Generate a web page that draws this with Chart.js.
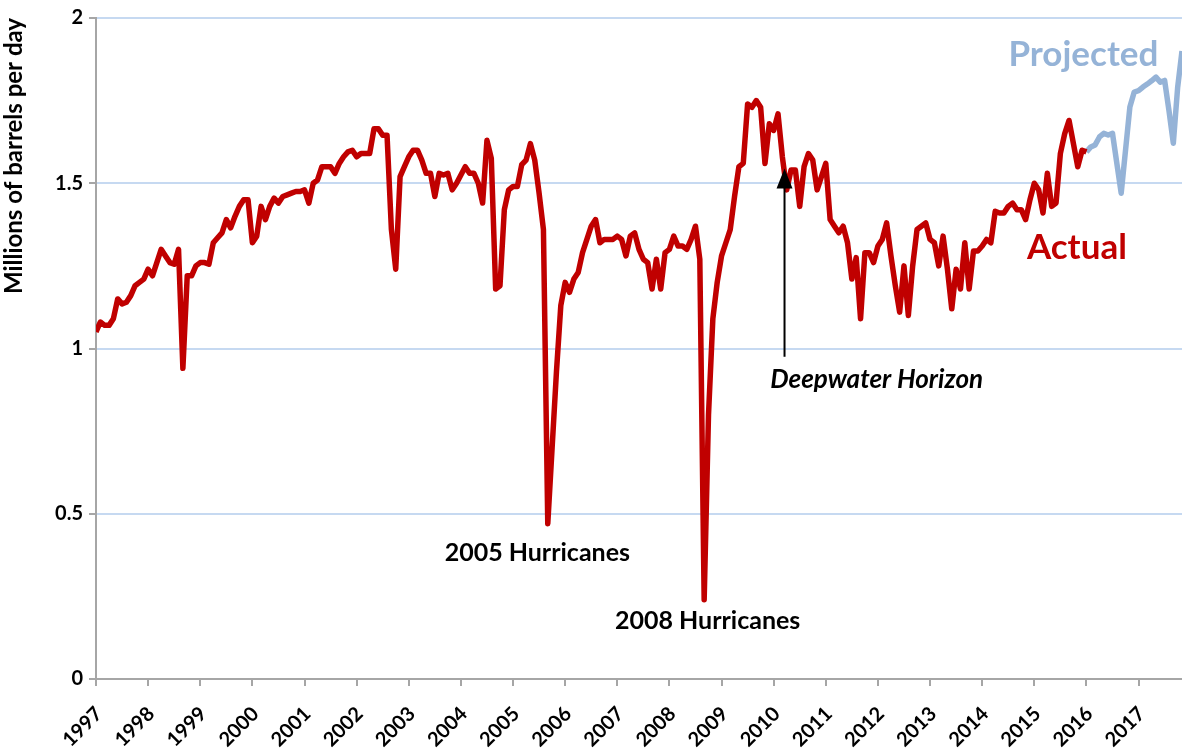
<!DOCTYPE html>
<html>
<head>
<meta charset="utf-8">
<title>Gulf of Mexico crude oil production</title>
<script src="https://cdn.jsdelivr.net/npm/chart.js@4.4.1/dist/chart.umd.min.js"></script>
<style>
  body { margin: 0; background: #fff; }
  canvas { display: block; }
</style>
</head>
<body>
<canvas id="production" width="1182" height="749"></canvas>
<script>
// month index 0 = Jan 1997, one value per month, million barrels per day
var firstYear = 1997;
var lastMonth = 250;

var actual = [
  1.05, 1.08, 1.07, 1.07, 1.09, 1.15, 1.135, 1.14, 1.16, 1.19, 1.20, 1.21,   // 1997
  1.24, 1.22, 1.26, 1.30, 1.28, 1.26, 1.255, 1.30, 0.94, 1.22, 1.22, 1.25,   // 1998
  1.26, 1.26, 1.255, 1.32, 1.335, 1.35, 1.39, 1.365, 1.40, 1.43, 1.45, 1.45, // 1999
  1.32, 1.34, 1.43, 1.39, 1.43, 1.455, 1.44, 1.46, 1.465, 1.47, 1.475, 1.475,// 2000
  1.48, 1.44, 1.50, 1.51, 1.55, 1.55, 1.55, 1.53, 1.56, 1.58, 1.595, 1.60,   // 2001
  1.58, 1.59, 1.59, 1.59, 1.665, 1.665, 1.645, 1.645, 1.36, 1.24, 1.52, 1.55,// 2002
  1.58, 1.60, 1.60, 1.57, 1.53, 1.53, 1.46, 1.53, 1.525, 1.53, 1.48, 1.50,   // 2003
  1.525, 1.55, 1.53, 1.53, 1.50, 1.44, 1.63, 1.575, 1.18, 1.19, 1.42, 1.48,  // 2004
  1.49, 1.49, 1.556, 1.57, 1.62, 1.57, 1.47, 1.36, 0.47, 0.70, 0.93, 1.13,   // 2005
  1.20, 1.17, 1.21, 1.23, 1.29, 1.33, 1.37, 1.39, 1.32, 1.33, 1.33, 1.33,    // 2006
  1.34, 1.33, 1.28, 1.34, 1.35, 1.30, 1.27, 1.26, 1.18, 1.27, 1.18, 1.29,    // 2007
  1.30, 1.34, 1.31, 1.31, 1.30, 1.33, 1.37, 1.27, 0.24, 0.80, 1.09, 1.20,    // 2008
  1.28, 1.32, 1.36, 1.46, 1.55, 1.56, 1.74, 1.73, 1.75, 1.73, 1.56, 1.68,    // 2009
  1.66, 1.71, 1.58, 1.48, 1.54, 1.54, 1.43, 1.55, 1.59, 1.57, 1.48, 1.52,    // 2010
  1.56, 1.39, 1.37, 1.35, 1.37, 1.32, 1.21, 1.275, 1.09, 1.29, 1.29, 1.26,   // 2011
  1.31, 1.33, 1.38, 1.28, 1.19, 1.11, 1.25, 1.10, 1.25, 1.36, 1.37, 1.38,    // 2012
  1.33, 1.32, 1.25, 1.34, 1.24, 1.12, 1.24, 1.18, 1.32, 1.18, 1.295, 1.295,  // 2013
  1.31, 1.33, 1.32, 1.415, 1.41, 1.41, 1.43, 1.44, 1.42, 1.42, 1.39, 1.45,   // 2014
  1.50, 1.48, 1.41, 1.53, 1.43, 1.44, 1.59, 1.65, 1.69, 1.62, 1.55, 1.60,    // 2015
  1.595                                                                      // Jan 2016
];

// forecast picks up where the actuals stop
var projectedStart = 228;
var projected = [
  1.595, 1.61, 1.616, 1.64, 1.651, 1.646, 1.651, 1.56, 1.47, 1.60, 1.731, 1.776, // 2016
  1.78, 1.791, 1.80, 1.81, 1.821, 1.806, 1.811, 1.72, 1.621, 1.79, 1.90          // 2017
];

var yMin = 0, yMax = 2, yStep = 0.5;

var red = '#c00000';
var blue = '#95b3d7';
var axisGray = '#a6a6a6';
var fontFamily = 'Lato, "Open Sans", sans-serif';

function points(values, start) {
  return values.map(function (v, i) { return { x: start + i, y: v }; });
}

// text labels and the arrow, placed in data units
var notes = {
  id: 'notes',
  afterDatasetsDraw: function (chart) {
    var c = chart.ctx, xs = chart.scales.x, ys = chart.scales.y;
    function px(m) { return xs.getPixelForValue(m); }
    function py(v) { return ys.getPixelForValue(v); }
    function label(text, m, v, font, color) {
      c.save();
      c.font = font;
      c.fillStyle = color;
      c.textAlign = 'center';
      c.textBaseline = 'middle';
      c.fillText(text, px(m), py(v));
      c.restore();
    }

    label('2005 Hurricanes', 101.6, 0.38, 'bold 25px ' + fontFamily, '#000');
    label('2008 Hurricanes', 140.8, 0.175, 'bold 25px ' + fontFamily, '#000');
    label('Deepwater Horizon', 179.7, 0.905, 'italic bold 26px ' + fontFamily, '#000');
    label('Projected', 227.3, 1.89, 'bold 35px ' + fontFamily, blue);
    label('Actual', 225.8, 1.305, 'bold 35px ' + fontFamily, red);

    // arrow pointing at April 2010
    var ax = px(158.5), y0 = py(0.975), y1 = py(1.545);
    c.save();
    c.strokeStyle = '#000';
    c.fillStyle = '#000';
    c.lineWidth = 2;
    c.beginPath();
    c.moveTo(ax, y0);
    c.lineTo(ax, y1 + 16);
    c.stroke();
    c.beginPath();
    c.moveTo(ax, y1);
    c.lineTo(ax - 8, y1 + 20);
    c.lineTo(ax + 8, y1 + 20);
    c.closePath();
    c.fill();
    c.restore();
  }
};

var ctx = document.getElementById('production');

var chart = new Chart(ctx, {
  type: 'line',
  data: {
    datasets: [{
      label: 'Actual',
      data: points(actual, 0),
      borderColor: red,
      borderWidth: 5.5,
      borderJoinStyle: 'round',
      pointRadius: 0,
      tension: 0
    }, {
      label: 'Projected',
      data: points(projected, projectedStart),
      borderColor: blue,
      borderWidth: 5.5,
      borderJoinStyle: 'round',
      pointRadius: 0,
      tension: 0
    }]
  },
  options: {
    responsive: false,
    animation: false,
    layout: { padding: { top: 14, right: 0, bottom: 0, left: 0 } },
    plugins: {
      legend: { display: false },
      tooltip: { enabled: false }
    },
    scales: {
      x: {
        type: 'linear',
        min: 0,
        max: lastMonth,
        afterFit: function (s) { s.height = 70; },
        ticks: {
          stepSize: 12,
          includeBounds: false,
          autoSkip: false,
          minRotation: 45,
          maxRotation: 45,
          padding: 16,
          labelOffset: 3,
          color: '#000',
          font: { family: fontFamily, size: 20, weight: 'bold' },
          callback: function (v) { return v % 12 === 0 ? String(firstYear + v / 12) : null; }
        },
        grid: { drawOnChartArea: false, tickColor: axisGray, tickLength: 7, lineWidth: 2 },
        border: { color: axisGray, width: 2 }
      },
      y: {
        min: yMin,
        max: yMax,
        afterFit: function (s) { s.width = 96; },
        ticks: {
          stepSize: yStep,
          padding: 6,
          color: '#000',
          font: { family: fontFamily, size: 20, weight: 'bold' },
          callback: function (v) { return String(v); }
        },
        grid: { color: '#c6d9f1', lineWidth: 2, tickColor: axisGray, tickLength: 7 },
        border: { color: axisGray, width: 2 },
        title: {
          display: true,
          text: 'Millions of barrels per day',
          align: 'end',
          color: '#000',
          padding: { top: 0, bottom: 2 },
          font: { family: fontFamily, size: 24, weight: 'bold' }
        }
      }
    }
  },
  plugins: [notes]
});
</script>
</body>
</html>
